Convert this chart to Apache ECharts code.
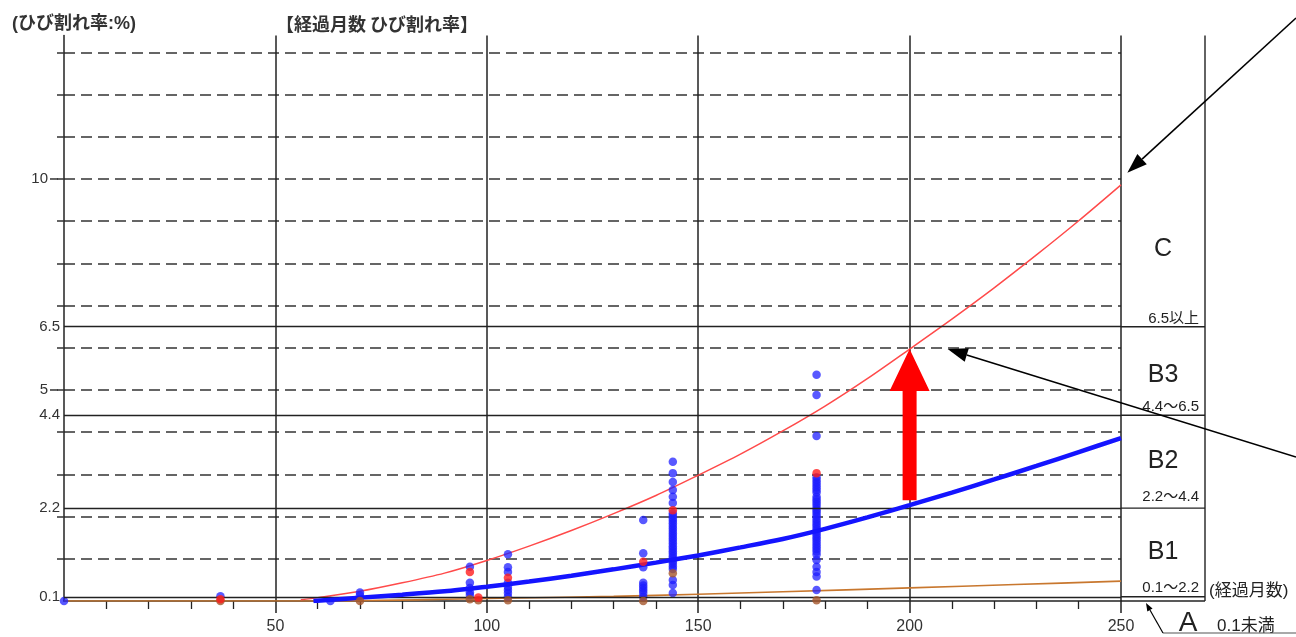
<!DOCTYPE html>
<html>
<head>
<meta charset="utf-8">
<script src="https://cdn.jsdelivr.net/npm/echarts@6/dist/echarts.min.js"></script>
<style>
  html, body { margin: 0; padding: 0; background: #fff; }
  #chart { width: 1296px; height: 637px; }
</style>
</head>
<body>
<div id="chart"></div>
<script>
// ---- data: elapsed months vs. crack rate (%) ----
const xTickLabels = [50, 100, 150, 200, 250];
const yTickLabels = [0.1, 2.2, 4.4, 5, 6.5, 10];
const yLongTicks = [5, 10];
const yGridValues = [1, 2, 3, 4, 5, 6, 7, 8, 9, 10, 11, 12, 13];
const rankThresholds = [0.1, 2.2, 4.4, 6.5];

// upper deterioration curve (thin red)
const upperCurve = [[56, 0.03], [60, 0.08], [70, 0.23], [80, 0.43], [90, 0.66], [100, 0.96],
  [110, 1.3], [120, 1.67], [130, 2.07], [140, 2.5], [150, 2.98], [160, 3.48], [170, 4.03],
  [180, 4.62], [190, 5.27], [200, 5.97], [210, 6.68], [220, 7.42], [230, 8.2], [240, 9.01], [250, 9.86]];

// mean deterioration curve (thick blue)
const meanCurve = [[59, 0.0], [65, 0.04], [70, 0.08], [80, 0.15], [90, 0.23], [100, 0.34],
  [110, 0.46], [120, 0.6], [130, 0.75], [140, 0.91], [150, 1.08], [160, 1.27], [170, 1.47],
  [180, 1.71], [190, 1.98], [200, 2.27], [210, 2.57], [220, 2.88], [230, 3.2], [240, 3.53], [250, 3.86]];

// lower deterioration curve (orange)
const lowerCurve = [[0, 0.0], [60, 0.0], [100, 0.06], [130, 0.11], [150, 0.16], [170, 0.22],
  [200, 0.31], [225, 0.39], [250, 0.47]];

// surveyed sections
const bluePoints = [
  [0, 0.0], [37, 0.11], [63, 0.0], [70, 0.2], [70, 0.13],
  [96, 0.81], [96, 0.43], [96, 0.31], [96, 0.21], [96, 0.14],
  [105, 1.11], [105, 0.8], [105, 0.69], [105, 0.43], [105, 0.33], [105, 0.26], [105, 0.19], [105, 0.1],
  [137, 1.92], [137, 1.13], [137, 0.8], [137, 0.43], [137, 0.37], [137, 0.31], [137, 0.25], [137, 0.19], [137, 0.1],
  [144, 3.3], [144, 3.03], [144, 2.82], [144, 2.63], [144, 2.47], [144, 2.32],
  [144, 2.08], [144, 2.02], [144, 1.96], [144, 1.9], [144, 1.84], [144, 1.78], [144, 1.72], [144, 1.66],
  [144, 1.6], [144, 1.54], [144, 1.48], [144, 1.42], [144, 1.36], [144, 1.3], [144, 1.24], [144, 1.18],
  [144, 1.12], [144, 1.06], [144, 1.0], [144, 0.94], [144, 0.88], [144, 0.82], [144, 0.76],
  [144, 0.5], [144, 0.38], [144, 0.19],
  [178, 5.36], [178, 4.88], [178, 3.91],
  [178, 2.93], [178, 2.87], [178, 2.81], [178, 2.75], [178, 2.69], [178, 2.63], [178, 2.57], [178, 2.47],
  [178, 2.41], [178, 2.35], [178, 2.29], [178, 2.23], [178, 2.17], [178, 2.12], [178, 2.06], [178, 2.0],
  [178, 1.94], [178, 1.88], [178, 1.82], [178, 1.76], [178, 1.7], [178, 1.64], [178, 1.58], [178, 1.52],
  [178, 1.47], [178, 1.41], [178, 1.35], [178, 1.29], [178, 1.23], [178, 1.17], [178, 1.1],
  [178, 0.97], [178, 0.81], [178, 0.69], [178, 0.58], [178, 0.26]
];
const redPoints = [[37, 0.04], [96, 0.69], [98, 0.08], [105, 0.55], [137, 0.93], [144, 2.15], [178, 3.03]];
const brownPoints = [[37, 0.0], [70, 0.0], [96, 0.04], [98, 0.02], [105, 0.02], [137, 0.0], [144, 0.66], [178, 0.02]];

// rank boxes on the right: [label, range text]
const rankLabels = ['C', 'B3', 'B2', 'B1'];
const rankRanges = ['6.5以上', '4.4～6.5', '2.2～4.4', '0.1～2.2'];

const NUM_FONT = "'Liberation Sans', Arial, sans-serif";
const JP_FONT = "'Liberation Sans', 'Noto Sans CJK JP', sans-serif";
const INK = '#222';

const chart = echarts.init(document.getElementById('chart'), null, { renderer: 'canvas' });

chart.setOption({
  animation: false,
  backgroundColor: '#fff',
  grid: { left: 64, right: 175, top: 35.5, bottom: 36, containLabel: false },
  xAxis: {
    type: 'value', min: 0, max: 250, interval: 50,
    axisLine: { show: true, onZero: false, lineStyle: { color: INK, width: 1.5 } },
    axisTick: { show: true, length: 12, customValues: xTickLabels, lineStyle: { color: INK, width: 1.5 } },
    minorTick: { show: true, splitNumber: 5, length: 8, lineStyle: { color: INK, width: 1.3 } },
    axisLabel: {
      customValues: xTickLabels, margin: 18, fontSize: 16, color: '#333', fontFamily: NUM_FONT
    },
    splitLine: { show: true, lineStyle: { color: INK, width: 1.5 } }
  },
  yAxis: {
    type: 'value', min: 0, max: 13.4, interval: 1,
    axisLine: { show: true, onZero: false, lineStyle: { color: INK, width: 1.5 } },
    axisTick: { show: true, length: 7, customValues: yGridValues, lineStyle: { color: '#333', width: 1.5 } },
    axisLabel: {
      customValues: yTickLabels, margin: 4, fontSize: 15, color: '#333', fontFamily: NUM_FONT,
      formatter: v => yLongTicks.includes(v) ? `{far|${v}}` : `${v}`,
      rich: { far: { fontSize: 15, color: '#333', fontFamily: NUM_FONT, padding: [0, 12, 0, 0] } }
    },
    splitLine: { show: true, lineStyle: { type: [11, 6], color: '#333', width: 1.5 } }
  },
  series: [
    {
      name: 'lower', type: 'line', data: lowerCurve, smooth: 0.3, symbol: 'none', z: 3,
      lineStyle: { color: '#c8772e', width: 1.6 },
      markLine: {
        silent: true, symbol: ['none', 'none'], label: { show: false },
        lineStyle: { type: 'solid', color: INK, width: 1.4 },
        data: rankThresholds.map(v => ({ yAxis: v }))
      }
    },
    {
      name: 'upper', type: 'line', data: upperCurve, smooth: 0.3, symbol: 'none', z: 3,
      lineStyle: { color: '#ff4a4a', width: 1.5 }
    },
    {
      name: 'blue-pts', type: 'scatter', data: bluePoints, symbolSize: 8.5, z: 4,
      itemStyle: { color: 'rgba(28,28,255,0.92)' }
    },
    {
      name: 'mean', type: 'line', data: meanCurve, smooth: 0.3, symbol: 'none', z: 5,
      lineStyle: { color: '#1414ff', width: 4.5 }
    },
    {
      name: 'brown-pts', type: 'scatter', data: brownPoints, symbolSize: 8.5, z: 6,
      itemStyle: { color: '#a5562c' }
    },
    {
      name: 'red-pts', type: 'scatter', data: redPoints, symbolSize: 8.5, z: 6,
      itemStyle: { color: '#ff1e1e' }
    }
  ]
});

// ---- rank boxes, titles and arrows ----
const px = (x, y) => chart.convertToPixel({ gridIndex: 0 }, [x, y]);
const [xStart] = px(0, 0);
const [xEnd, yZero] = px(250, 0);
const yTop = px(250, 13.4)[1];
const boxR = xEnd + 84;
const boxC = (xEnd + boxR) / 2;
const lineStyle = { stroke: INK, lineWidth: 1.4 };

const g = [];
// longer ticks at the labelled integer values
yLongTicks.forEach(v => {
  const y = px(0, v)[1];
  g.push({ type: 'line', shape: { x1: xStart - 14, y1: y, x2: xStart - 6, y2: y }, style: { stroke: '#333', lineWidth: 1.5 } });
});
// box outline
g.push({ type: 'line', shape: { x1: boxR, y1: yTop, x2: boxR, y2: yZero }, style: lineStyle });
[0, ...rankThresholds].forEach(v => {
  const y = px(250, v)[1];
  g.push({ type: 'line', shape: { x1: xEnd, y1: y, x2: boxR, y2: y }, style: lineStyle });
});

// rank letters and ranges
const letterY = [8.35, 5.36, 3.32, 1.16];
const rangeY = [6.68, 4.6, 2.46, 0.31];
rankLabels.forEach((t, i) => {
  g.push({ type: 'text', x: boxC, y: px(250, letterY[i])[1],
    style: { text: t, font: `25px ${NUM_FONT}`, fill: '#222', align: 'center', verticalAlign: 'middle' } });
  g.push({ type: 'text', x: boxR - 6, y: px(250, rangeY[i])[1],
    style: { text: rankRanges[i], font: `15px ${JP_FONT}`, fill: '#222', align: 'right', verticalAlign: 'middle' } });
});

// axis captions
g.push({ type: 'text', x: 12, y: 24,
  style: { text: '(ひび割れ率:%)', font: `bold 18px ${JP_FONT}`, fill: '#333', verticalAlign: 'middle' } });
g.push({ type: 'text', x: 276, y: 24,
  style: { text: '【経過月数 ひび割れ率】', font: `bold 18px 'Noto Sans CJK JP', sans-serif`, fill: '#333', verticalAlign: 'middle' } });
g.push({ type: 'text', x: boxR + 4, y: yZero - 10,
  style: { text: '(経過月数)', font: `17px ${JP_FONT}`, fill: '#222', verticalAlign: 'middle' } });

// rank A note below the axis
g.push({ type: 'text', x: boxC + 25, y: yZero + 22,
  style: { text: 'A', font: `28px ${NUM_FONT}`, fill: '#222', align: 'center', verticalAlign: 'middle' } });
g.push({ type: 'text', x: boxC + 54, y: yZero + 25,
  style: { text: '0.1未満', font: `17px ${JP_FONT}`, fill: '#222', verticalAlign: 'middle' } });

function arrow(x1, y1, x2, y2, len, half, width) {
  const dx = x2 - x1, dy = y2 - y1, d = Math.hypot(dx, dy);
  const ux = dx / d, uy = dy / d;
  const bx = x2 - ux * len, by = y2 - uy * len;
  g.push({ type: 'line', shape: { x1, y1, x2: bx, y2: by }, style: { stroke: '#000', lineWidth: width } });
  g.push({ type: 'polygon', shape: { points: [[x2, y2], [bx - uy * half, by + ux * half], [bx + uy * half, by - ux * half]] },
    style: { fill: '#000' } });
}
const tipA = px(251.5, 10.15);
arrow(1296, 18, tipA[0], tipA[1], 20, 7, 1.6);
const tipB = px(209, 5.97);
arrow(1296, 457, tipB[0], tipB[1], 20, 7, 1.6);
// pointer for rank A
g.push({ type: 'polyline', shape: { points: [[boxC, yZero + 32], [1296, yZero + 32]] }, style: { stroke: '#555', lineWidth: 1.2, fill: null } });
arrow(boxC, yZero + 32, xEnd + 25, yZero + 2, 8, 3, 1.2);

// big red arrow at month 200
const aBase = px(200, 2.39), aTip = px(200, 5.97);
const sh = 7, hw = 20, hl = 42;
g.push({ type: 'polygon', z: 10, shape: { points: [
  [aBase[0] - sh, aBase[1]], [aBase[0] + sh, aBase[1]], [aBase[0] + sh, aTip[1] + hl],
  [aBase[0] + hw, aTip[1] + hl], [aTip[0], aTip[1]], [aBase[0] - hw, aTip[1] + hl], [aBase[0] - sh, aTip[1] + hl]
] }, style: { fill: '#ff0000' } });

chart.setOption({ graphic: g });
</script>
</body>
</html>
